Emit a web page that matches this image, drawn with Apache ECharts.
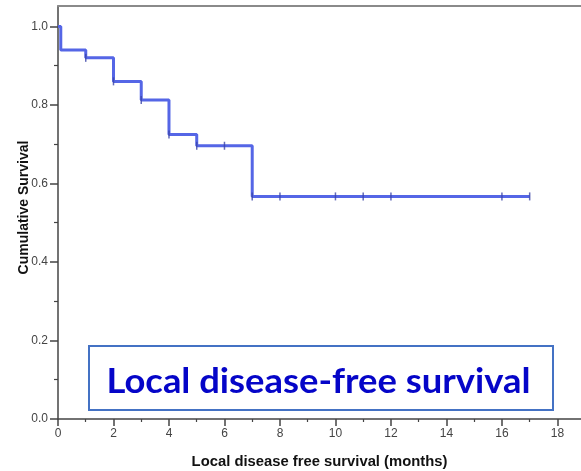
<!DOCTYPE html>
<html>
<head>
<meta charset="utf-8">
<script src="https://cdn.jsdelivr.net/npm/echarts@6/dist/echarts.min.js"></script>
<style>
html,body{margin:0;padding:0;background:#fff;}
#chart{width:581px;height:471px;}
</style>
</head>
<body>
<div id="chart"></div>
<script>
// Kaplan-Meier step points (time in months, cumulative survival after the event)
var kmTimes    = [0, 0.1, 1, 2, 3, 4, 5, 7, 17];
var kmSurvival = [1.0, 0.94, 0.92, 0.86, 0.8125, 0.725, 0.696, 0.567, 0.567];
// censored observations
var censorTimes    = [1, 2, 3, 4, 5, 6, 7, 8, 10, 11, 12, 16, 17];
var censorSurvival = [0.92, 0.86, 0.8125, 0.725, 0.696, 0.696, 0.567, 0.567, 0.567, 0.567, 0.567, 0.567, 0.567];
// axis ticks
var xMajorTicks = [0, 2, 4, 6, 8, 10, 12, 14, 16, 18];
var xMinorTicks = [1, 3, 5, 7, 9, 11, 13, 15, 17];
var yMajorTicks = [0, 0.2, 0.4, 0.6, 0.8, 1.0];
var yMinorTicks = [0.1, 0.3, 0.5, 0.7, 0.9];

var xTitle = 'Local disease free survival (months)';
var yTitle = 'Cumulative Survival';
var boxText = 'Local disease-free survival';

var kmData = kmTimes.map(function (t, i) { return [t, kmSurvival[i]]; });
var censorData = censorTimes.map(function (t, i) { return [t, censorSurvival[i]]; });

var XMAX = 18.85, YMAX = 1.052;
var axisCol = '#444';
var labelStyle = { color: '#444', fontFamily: 'Liberation Sans, Arial, sans-serif', fontSize: 12 };

var chart = echarts.init(document.getElementById('chart'), null, { renderer: 'canvas' });

// fit the banner text width
var fontSpec = 'bold 34px Lato';
var cv = document.createElement('canvas').getContext('2d');
cv.font = fontSpec;
var w = cv.measureText(boxText).width || 424;
var sx = 424 / w;

chart.setOption({
  animation: false,
  backgroundColor: '#fff',
  grid: { left: 58, right: 0, top: 6, bottom: 52, containLabel: false, outerBoundsMode: 'none' },
  xAxis: [
    {
      type: 'value', min: 0, max: XMAX, position: 'bottom',
      name: xTitle, nameLocation: 'middle', nameGap: 35, nameMoveOverlap: false,
      nameTextStyle: { fontFamily: 'Liberation Sans, Arial, sans-serif', fontWeight: 'bold', fontSize: 14.8, color: '#111' },
      axisLine: { show: true, lineStyle: { color: axisCol, width: 1.5 } },
      axisTick: { show: true, length: 7, customValues: xMajorTicks, lineStyle: { color: axisCol, width: 1.5 } },
      axisLabel: Object.assign({ margin: 9, customValues: xMajorTicks, formatter: function (v) { return String(v); } }, labelStyle),
      splitLine: { show: false }
    },
    {
      type: 'value', min: 0, max: XMAX, position: 'bottom',
      axisLine: { show: false },
      axisTick: { show: true, length: 3, customValues: xMinorTicks, lineStyle: { color: axisCol, width: 1.2 } },
      axisLabel: { show: false },
      splitLine: { show: false }
    },
    {
      type: 'value', min: 0, max: XMAX, position: 'top',
      axisLine: { show: true, lineStyle: { color: '#8a8a8a', width: 2 } },
      axisTick: { show: false }, axisLabel: { show: false }, splitLine: { show: false }
    }
  ],
  yAxis: [
    {
      type: 'value', min: 0, max: YMAX, position: 'left',
      name: yTitle, nameLocation: 'middle', nameGap: 27, nameRotate: 90, nameMoveOverlap: false,
      nameTextStyle: { fontFamily: 'Liberation Sans, Arial, sans-serif', fontWeight: 'bold', fontSize: 14, color: '#111', padding: [0, 0, 0, 10] },
      axisLine: { show: true, lineStyle: { color: axisCol, width: 1.5 } },
      axisTick: { show: true, length: 8, customValues: yMajorTicks, lineStyle: { color: axisCol, width: 1.5 } },
      axisLabel: Object.assign({ margin: 10, customValues: yMajorTicks, formatter: function (v) { return v.toFixed(1); } }, labelStyle),
      splitLine: { show: false }
    },
    {
      type: 'value', min: 0, max: YMAX, position: 'left',
      axisLine: { show: false },
      axisTick: { show: true, length: 4, customValues: yMinorTicks, lineStyle: { color: axisCol, width: 1.2 } },
      axisLabel: { show: false },
      splitLine: { show: false }
    }
  ],
  series: [
    {
      type: 'line', xAxisIndex: 0, yAxisIndex: 0,
      data: kmData, step: 'end', showSymbol: false, symbol: 'none',
      lineStyle: { color: '#5566e6', width: 3 },
      z: 3
    },
    {
      type: 'scatter', xAxisIndex: 0, yAxisIndex: 0,
      data: censorData, symbol: 'rect', symbolSize: [1.5, 8],
      itemStyle: { color: '#3a44a8' },
      z: 4
    }
  ],
  graphic: [
    {
      type: 'rect', z: 10,
      shape: { x: 89, y: 346, width: 464, height: 64 },
      style: { fill: '#fff', stroke: '#4472C4', lineWidth: 2 }
    },
    {
      type: 'text', z: 11,
      x: 106.5, y: 365, scaleX: sx, scaleY: 1,
      style: { text: boxText, font: fontSpec, fill: '#0505c8' }
    }
  ]
});
</script>
</body>
</html>
